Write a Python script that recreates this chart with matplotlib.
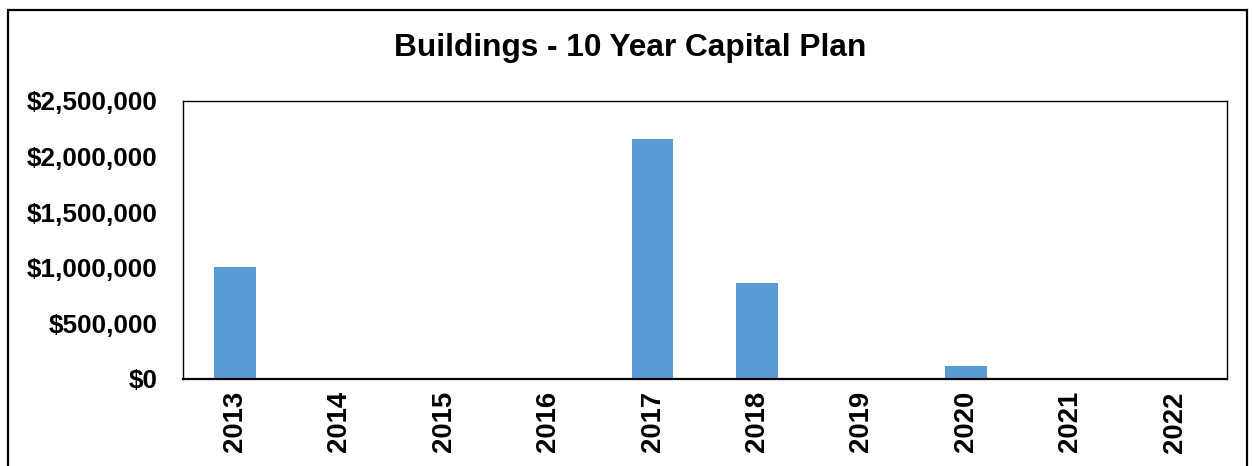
import matplotlib
matplotlib.use("Agg")
import matplotlib.pyplot as plt
from matplotlib.patches import Rectangle
from matplotlib.ticker import FuncFormatter

years = ["2013", "2014", "2015", "2016", "2017", "2018", "2019", "2020", "2021", "2022"]
values = [1008000, 0, 0, 0, 2155000, 859000, 0, 114000, 0, 0]
yticks = [0, 500000, 1000000, 1500000, 2000000, 2500000]

plt.rcParams['font.family'] = ['Liberation Sans', 'DejaVu Sans']
W, H = 1254, 466
fig = plt.figure(figsize=(W / 100, H / 100), dpi=100)
ax = fig.add_axes([182.5 / W, 1 - 378.7 / H, (1227 - 182.5) / W, (378.7 - 101) / H])

x = list(range(len(years)))
ax.bar(x, values, width=0.4, color="#5B9BD5", zorder=2)
ax.set_xlim(-0.5, len(years) - 0.5)
ax.set_ylim(0, 2500000)
ax.set_yticks(yticks)
ax.yaxis.set_major_formatter(FuncFormatter(lambda v, p: "${:,.0f}".format(v)))
ax.set_xticks(x)
ax.set_xticklabels(years, rotation=90)
ax.tick_params(axis='y', length=0, labelsize=18.8, pad=18)
ax.tick_params(axis='x', length=0, labelsize=19.8, pad=9)
for lab in ax.get_xticklabels() + ax.get_yticklabels():
    lab.set_fontweight('bold')
for s in ax.spines.values():
    s.set_linewidth(1.0)
    s.set_color('#000000')
ax.spines['bottom'].set_linewidth(1.6)

fig.text(630.5 / W, 1 - 48.5 / H, "Buildings - 10 Year Capital Plan",
         ha='center', va='center', fontsize=22.8, fontweight='bold')

fig.patches.append(Rectangle((8 / W, -0.1), (1247 - 8) / W, 1 - 10 / H + 0.1,
                             transform=fig.transFigure, fill=False,
                             edgecolor='black', linewidth=1.6))

fig.savefig("out.png", dpi=100)
